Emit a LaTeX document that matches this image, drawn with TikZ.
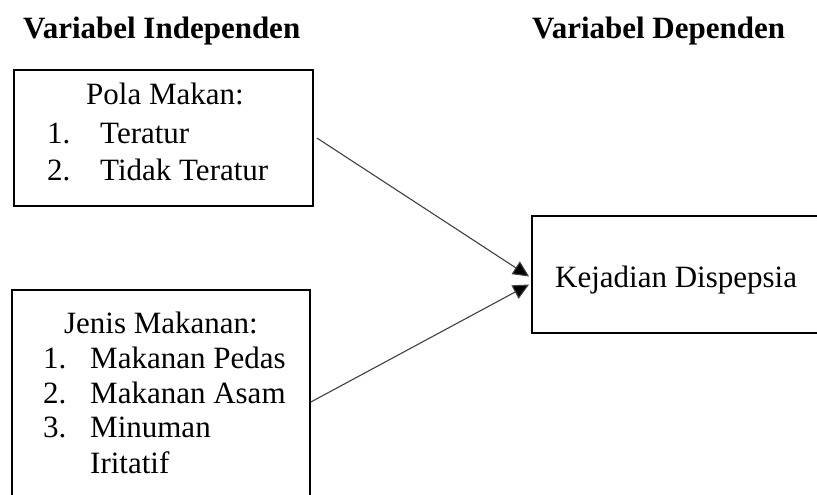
\documentclass[tikz,border=0pt]{standalone}
\usepackage{fontspec}
\setmainfont{Liberation Serif}
\usetikzlibrary{arrows.meta}
\tikzset{
  varbox/.style={draw, line width=1.8pt, inner sep=0pt},
  txt/.style={inner sep=0pt, anchor=base west, font=\fontsize{31}{36}\selectfont},
  head/.style={txt, font=\fontsize{31}{36}\selectfont\bfseries},
  link/.style={line width=1.1pt, draw=black!75, -{Triangle[length=16pt,width=15pt,fill=black]}}
}
\begin{document}
\begin{tikzpicture}[x=1pt,y=-1pt]
\useasboundingbox (0,0) rectangle (817,495);
\clip (0,0) rectangle (817,495);
% headings
\node[head] (hind) at (23,39) {Variabel Independen};
\node[head] (hdep) at (532,39) {Variabel Dependen};
% boxes
\node[varbox, minimum width=299pt, minimum height=136pt] (pola) at (163.5,138) {};
\node[varbox, minimum width=298pt, minimum height=220pt] (jenis) at (161,400) {};
\node[varbox, minimum width=293pt, minimum height=117pt] (kejadian) at (678.5,274.5) {};
% box texts
\node[txt, anchor=base] (polat) at (165,105) {Pola Makan:};
\node[txt] (pola1n) at (47,143) {1.};
\node[txt] (pola1) at (100,143) {Teratur};
\node[txt] (pola2n) at (47,180) {2.};
\node[txt] (pola2) at (100,180) {Tidak Teratur};
\node[txt, anchor=base] (jenist) at (161,333) {Jenis Makanan:};
\node[txt] (jenis1n) at (43,368) {1.};
\node[txt] (jenis1) at (90,368) {Makanan Pedas};
\node[txt] (jenis2n) at (43,403) {2.};
\node[txt] (jenis2) at (90,403) {Makanan Asam};
\node[txt] (jenis3n) at (43,437) {3.};
\node[txt] (jenis3) at (90,437) {Minuman};
\node[txt] (jenis3b) at (90,473) {Iritatif};
\node[txt] (kejt) at (555,287) {Kejadian Dispepsia};
% arrows
\coordinate (in1) at ([xshift=-2pt,yshift=-2pt]kejadian.west);
\coordinate (in2) at ([xshift=-2pt,yshift=-10pt]kejadian.west);
\draw[link] ([xshift=3pt]pola.east) -- (in1);
\draw[link] ([yshift=-2pt]jenis.east) -- (in2);
\end{tikzpicture}
\end{document}
